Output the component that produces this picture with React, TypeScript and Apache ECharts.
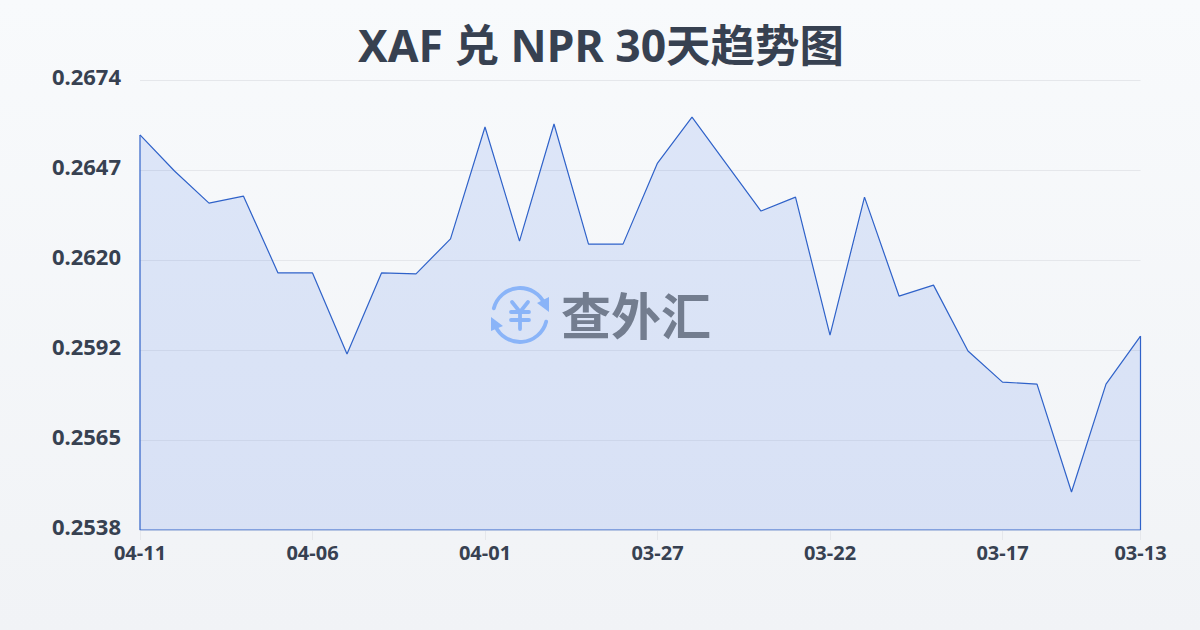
import React, { useEffect, useRef } from "react";
import * as echarts from "echarts";

const dates = ["04-11","04-10","04-09","04-08","04-07","04-06","04-05","04-04","04-03","04-02","04-01","03-31","03-30","03-29","03-28","03-27","03-26","03-25","03-24","03-23","03-22","03-21","03-20","03-19","03-18","03-17","03-16","03-15","03-14","03-13"];
const rates = [0.26574,0.26465,0.26368,0.26389,0.26157,0.26157,0.25912,0.26157,0.26154,0.26260,0.26598,0.26253,0.26607,0.26244,0.26244,0.26489,0.26628,0.26486,0.26344,0.26386,0.25969,0.26386,0.26087,0.26120,0.25921,0.25827,0.25821,0.25495,0.25821,0.25966];
const yTicks = [0.2538,0.2565,0.2592,0.2620,0.2647,0.2674];
const yTickPositions = [0.2538,0.25652,0.25924,0.26196,0.26468,0.2674];
const yMin = 0.2538;
const yMax = 0.2674;
const titleText = "XAF 兑 NPR 30天趋势图";
const logoText = "查外汇";

const showX = (i: number) => i === 29 || (i % 5 === 0 && i < 29);
const FONT = '"Noto Sans", "Noto Sans CJK SC", sans-serif';
const LOGO_BLUE = "#8ab4f8";

export default function App() {
  const ref = useRef<HTMLDivElement>(null);
  useEffect(() => {
    document.body.style.margin = "0";
    const chart = echarts.init(ref.current!, undefined, { renderer: "svg" });
    const iconLine = (pts: number[][]) => ({
      type: "polyline",
      z: 100,
      shape: { points: pts },
      style: { stroke: LOGO_BLUE, lineWidth: 3.8, fill: "none", lineCap: "round", lineJoin: "round" },
    });
    chart.setOption({
      animation: false,
      backgroundColor: {
        type: "linear", x: 0, y: 0, x2: 0, y2: 1,
        colorStops: [{ offset: 0, color: "#f8fafc" }, { offset: 1, color: "#f1f3f6" }],
      },
      title: {
        text: titleText,
        left: 596,
        top: 17,
        textAlign: "center",
        textStyle: { fontFamily: FONT, fontSize: 44.5, fontWeight: "bold", color: "#374151" },
      },
      grid: { left: 140, right: 59.5, top: 80, bottom: 100 },
      xAxis: {
        type: "category",
        data: dates,
        boundaryGap: false,
        axisLine: { show: false },
        axisTick: { show: true, interval: (i: number) => showX(i), length: 10, lineStyle: { color: "#e5e7eb", width: 1 } },
        axisLabel: {
          interval: (i: number) => showX(i),
          showMinLabel: true,
          showMaxLabel: true,
          margin: 12,
          fontFamily: FONT,
          fontSize: 20,
          fontWeight: "bold",
          color: "#374151",
        },
        splitLine: { show: false },
      },
      yAxis: {
        type: "value",
        min: yMin,
        max: yMax,
        axisLine: { show: false },
        axisTick: { show: false, customValues: yTickPositions },
        axisLabel: {
          customValues: yTickPositions,
          margin: 19,
          verticalAlign: "bottom",
          lineHeight: 8,
          fontFamily: FONT,
          fontSize: 22,
          fontWeight: "bold",
          color: "#374151",
          formatter: (v: number) => {
            const i = yTickPositions.findIndex((p) => Math.abs(p - v) < 1e-6);
            return i >= 0 ? yTicks[i].toFixed(4) : v.toFixed(4);
          },
        },
        splitLine: { show: true, lineStyle: { color: "#e5e7eb", width: 1 } },
      },
      series: [
        {
          type: "line",
          data: rates,
          symbol: "none",
          smooth: false,
          lineStyle: { color: "#2f62c9", width: 1.2 },
          areaStyle: { color: "rgba(37,99,235,0.18)" },
          silent: true,
          z: 3,
        },
        {
          type: "line",
          data: [[dates[29], rates[29]], [dates[29], yMin], [dates[0], yMin], [dates[0], rates[0]]],
          symbol: "none",
          lineStyle: { color: "#2f62c9", width: 1.2 },
          silent: true,
          z: 3,
        },
      ],
      graphic: [
        { type: "arc", z: 100, shape: { cx: 520, cy: 315, r: 27, startAngle: Math.PI * 1.08, endAngle: Math.PI * 1.87 },
          style: { stroke: LOGO_BLUE, lineWidth: 3.8, fill: "none", lineCap: "round" } },
        { type: "arc", z: 100, shape: { cx: 520, cy: 315, r: 27, startAngle: Math.PI * 0.08, endAngle: Math.PI * 0.87 },
          style: { stroke: LOGO_BLUE, lineWidth: 3.8, fill: "none", lineCap: "round" } },
        { type: "polygon", z: 100, shape: { points: [[537, 303], [549, 297], [549, 312]] }, style: { fill: LOGO_BLUE } },
        { type: "polygon", z: 100, shape: { points: [[491, 317], [491, 331], [503, 326]] }, style: { fill: LOGO_BLUE } },
        iconLine([[512, 302], [520, 312], [528, 302]]),
        iconLine([[511, 312], [529, 312]]),
        iconLine([[511, 320], [529, 320]]),
        iconLine([[520, 312], [520, 329]]),
        {
          type: "text",
          z: 100,
          x: 636,
          y: 313,
          style: {
            text: logoText,
            fontFamily: '"Noto Sans CJK SC", sans-serif',
            fontSize: 50,
            fontWeight: "bold",
            fill: "#737d8f",
            align: "center",
            verticalAlign: "middle",
          },
        },
      ],
    });
    return () => chart.dispose();
  }, []);
  return <div ref={ref} style={{ width: 1200, height: 630 }} />;
}
